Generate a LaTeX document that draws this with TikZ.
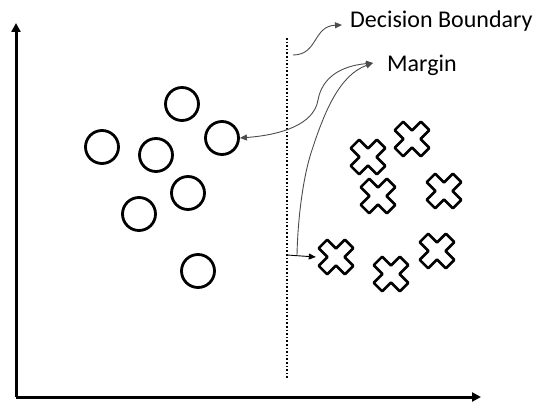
\documentclass[tikz,border=0pt]{standalone}
\usepackage{fontspec}
\setmainfont{Carlito}
\usetikzlibrary{arrows.meta}
\tikzset{
  ptip/.tip={Triangle[length=7pt,width=6pt]},
  atip/.tip={Triangle[length=9pt,width=9pt]}
}
\begin{document}
\begin{tikzpicture}[x=1pt,y=-1pt,
  axis/.style={line width=3pt,-atip},
  boundary/.style={line width=1.6pt,dotted},
  pointer/.style={draw=black!70,line width=0.9pt},
  dot/.style={circle,draw,line width=2.8pt,minimum size=33pt,inner sep=0pt},
  xmark/.style={minimum size=40pt,inner sep=0pt,
    path picture={\draw[line width=2.6pt,line join=round,
      shift={(path picture bounding box.center)}]
      (8.84pt,17.32pt)--(0pt,8.49pt)--(-8.84pt,17.32pt)--(-17.32pt,8.84pt)
      --(-8.49pt,0pt)--(-17.32pt,-8.84pt)--(-8.84pt,-17.32pt)--(0pt,-8.49pt)
      --(8.84pt,-17.32pt)--(17.32pt,-8.84pt)--(8.49pt,0pt)--(17.32pt,8.84pt)--cycle;}},
  label/.style={font=\fontsize{24}{28}\selectfont,anchor=base west,inner sep=0pt}]
\useasboundingbox (0,0) rectangle (538,406);

% axes
\coordinate (origin) at (16,397);
\coordinate (ytop) at (16,23);
\coordinate (xend) at (481,397);
\draw[axis] (origin) -- (ytop);
\draw[axis] (origin) -- (xend);

% decision boundary
\coordinate (btop) at (287,38);
\coordinate (bbot) at (287,379);
\draw[boundary] (btop) -- (bbot);

% class A: circles
\node[dot] (c1) at (182,104) {};
\node[dot] (c2) at (102,147) {};
\node[dot] (c3) at (156,155) {};
\node[dot] (c4) at (188,193) {};
\node[dot] (c5) at (139,214) {};
\node[dot] (c6) at (198,271) {};
\node[dot] (c7) at (222,138) {};

% class B: crosses
\node[xmark] (x1) at (368,157) {};
\node[xmark] (x2) at (412,139) {};
\node[xmark] (x3) at (378,196) {};
\node[xmark] (x4) at (444,191) {};
\node[xmark] (x5) at (336,257) {};
\node[xmark] (x6) at (391,274) {};
\node[xmark] (x7) at (437,251) {};

% labels
\node[label] (db) at (350,28) {Decision Boundary};
\node[label] (mg) at (387,72) {Margin};
\coordinate (dbtip) at (342,25);
\coordinate (mgtip) at (373,63);
\coordinate (dbfoot) at (293,55);
\coordinate (bend) at (297,255);
\coordinate (bx) at (287,255);

% pointers
\draw[pointer,-ptip] (dbfoot) .. controls (318,55) and (313,26) .. (dbtip);
\draw[pointer,ptip-ptip] (mgtip) .. controls (340,66) and (322,78) .. (318,100)
  .. controls (314,125) and (280,135) .. (c7.east);
\draw[pointer,-ptip] (bend) .. controls (298,210) and (305,170) .. (312,150)
  .. controls (325,110) and (340,75) .. (mgtip);
\draw[line width=0.9pt,-ptip] (bx) -- (x5.west);
\end{tikzpicture}
\end{document}
